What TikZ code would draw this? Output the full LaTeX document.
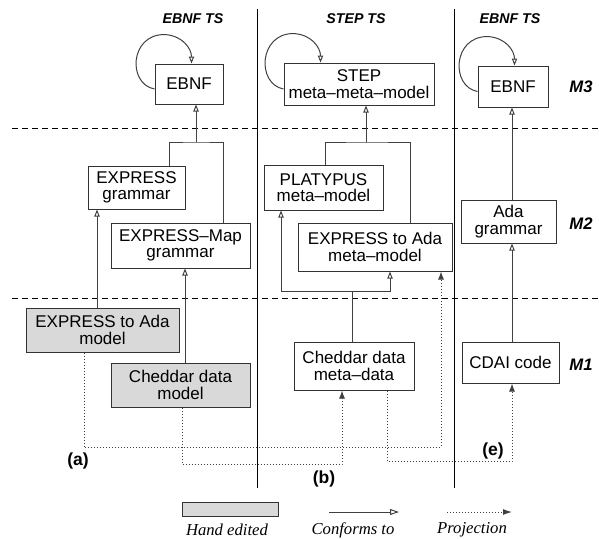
\documentclass[tikz,border=0pt]{standalone}
\usepackage{fontspec}
\setmainfont{Liberation Sans}
\newfontfamily\legendfont{Liberation Serif}
\usetikzlibrary{arrows.meta}
\definecolor{handgray}{gray}{0.85}

\begin{document}
\begin{tikzpicture}[
    x=0.6pt,y=-0.6pt,line width=0.6pt,
    model/.style={rectangle,draw=black!80,fill=white,inner sep=0pt,align=center,font=\fontsize{10.2}{9.8}\selectfont},
    handmodel/.style={model,fill=handgray},
    tslabel/.style={font=\fontsize{8.5}{10}\selectfont\bfseries\itshape},
    levellabel/.style={font=\fontsize{10}{12}\selectfont\bfseries\itshape},
    casetag/.style={font=\fontsize{10.5}{12}\selectfont\bfseries},
    legendtext/.style={font=\fontsize{10}{12}\selectfont\legendfont\itshape},
    link/.style={draw=black!75},
    conf/.style={link,-{Triangle[open,length=4.2pt,width=3.2pt]}},
    proj/.style={draw=black!75,dash pattern=on 0.6pt off 1.2pt,-{Latex[length=4.8pt,width=3.6pt]}},
    bigtip/.style={-{Triangle[open,length=5.4pt,width=3.6pt]}}
    ]

    \useasboundingbox (0,0) rectangle (599,538);

    % separators
    \draw[dash pattern=on 3.6pt off 2.4pt] (12,128) -- (599,128);
    \draw[dash pattern=on 3.6pt off 2.4pt] (12,298) -- (599,298);
    \draw (257,9) -- (257,488);
    \draw (454,9) -- (454,488);

    \node (tsa) [tslabel] at (193,19) {EBNF TS};
    \node (tsb) [tslabel] at (356,19) {STEP TS};
    \node (tse) [tslabel] at (510,19) {EBNF TS};

    \node (mthree) [levellabel] at (581,87) {M3};
    \node (mtwo) [levellabel] at (581,224) {M2};
    \node (mone) [levellabel] at (581,365) {M1};

    % left column
    \node (ebnfa) [model,minimum width=40.8pt,minimum height=24pt] at (189,84) {EBNF};
    \node (expgram) [model,minimum width=58.2pt,minimum height=25.8pt] at (136.5,187.5) {EXPRESS\\grammar};
    \node (expmap) [model,minimum width=83.4pt,minimum height=27pt] at (180.5,245.5) {EXPRESS--Map\\grammar};
    \node (adamod) [handmodel,minimum width=91.8pt,minimum height=26.4pt] at (102.5,330) {EXPRESS to Ada\\model};
    \node (chedmod) [handmodel,minimum width=83.4pt,minimum height=26.4pt] at (180.5,385) {Cheddar data\\model};

    % middle column
    \node (stepm) [model,minimum width=90pt,minimum height=25.2pt] at (359,84) {STEP\\meta--meta--model};
    \node (platy) [model,minimum width=71.4pt,minimum height=27pt] at (323.5,187.5) {PLATYPUS\\meta--model};
    \node (adamm) [model,minimum width=92.4pt,minimum height=28.8pt] at (375,247) {EXPRESS to Ada\\meta--model};
    \node (chedmeta) [model,minimum width=72pt,minimum height=28.8pt] at (354,366) {Cheddar data\\meta--data};

    % right column
    \node (ebnfb) [model,minimum width=42pt,minimum height=24.6pt] at (513,86.5) {EBNF};
    \node (adagram) [model,minimum width=57pt,minimum height=25.8pt] at (508.5,221.5) {Ada\\grammar};
    \node (cdai) [model,minimum width=58.2pt,minimum height=24.6pt] at (510.5,362.5) {CDAI code};

    % self conformance
    \foreach \n in {ebnfa,stepm,ebnfb}
      \draw[conf] ([shift={(0,5)}]\n.west) .. controls +(-27,-5) and +(-35,0) .. ([shift={(10,-29)}]\n.north west)
        .. controls +(18,1) and +(0,-15) .. ([shift={(37,0)}]\n.north west);

    % conforms to
    \coordinate (ja) at (196,142);
    \draw[link] (expgram.north -| 169,0) |- (ja) -| (expmap.north -| 223,0);
    \draw[conf] (ja) -- (ebnfa.south -| ja);
    \draw[conf] (adamod.north -| 97,0) -- (expgram.south -| 97,0);
    \draw[conf] (chedmod.north -| 185,0) -- (expmap.south -| 185,0);

    \coordinate (jb) at (366,142);
    \draw[link] (platy.north -| 325,0) |- (jb) -| (adamm.north -| 410,0);
    \draw[conf] (jb) -- (stepm.south -| jb);

    \coordinate (jc) at (352,291);
    \draw[link] (chedmeta.north -| jc) -- (jc);
    \draw[conf] (jc) -| (platy.south -| 281,0);
    \draw[conf] (jc) -| (adamm.south -| 390,0);

    \draw[conf] (cdai.north -| 512,0) -- (adagram.south -| 512,0);
    \draw[conf] (adagram.north -| 512,0) -- (ebnfb.south -| 512,0);

    % projections
    \coordinate (pa) at (441,447);
    \coordinate (pb) at (342,464);
    \coordinate (pe) at (512,461);
    \draw[proj] (adamod.south -| 84,0) |- (pa) -- (adamm.south -| pa);
    \draw[proj] (chedmod.south -| 182,0) |- (pb) -- (chedmeta.south -| pb);
    \draw[proj] (chedmeta.south -| 387,0) |- (pe) -- (cdai.south -| pe);

    \node (taga) [casetag] at (78,461) {(a)};
    \node (tagb) [casetag] at (324,479) {(b)};
    \node (tage) [casetag] at (493,451) {(e)};

    % legend
    \node (handkey) [handmodel,minimum width=57.6pt,minimum height=8.4pt] at (230.5,509) {};
    \node (handtext) [legendtext] at (227,530) {Hand edited};
    \coordinate (confa) at (329,512);
    \coordinate (confb) at (399,512);
    \draw[conf,bigtip] (confa) -- (confb);
    \node (conftext) [legendtext] at (353,530) {Conforms to};
    \coordinate (proja) at (447,512);
    \coordinate (projb) at (512,512);
    \draw[proj,-{Latex[length=5.4pt,width=3.6pt]}] (proja) -- (projb);
    \node (projtext) [legendtext] at (472,530) {Projection};

\end{tikzpicture}
\end{document}
